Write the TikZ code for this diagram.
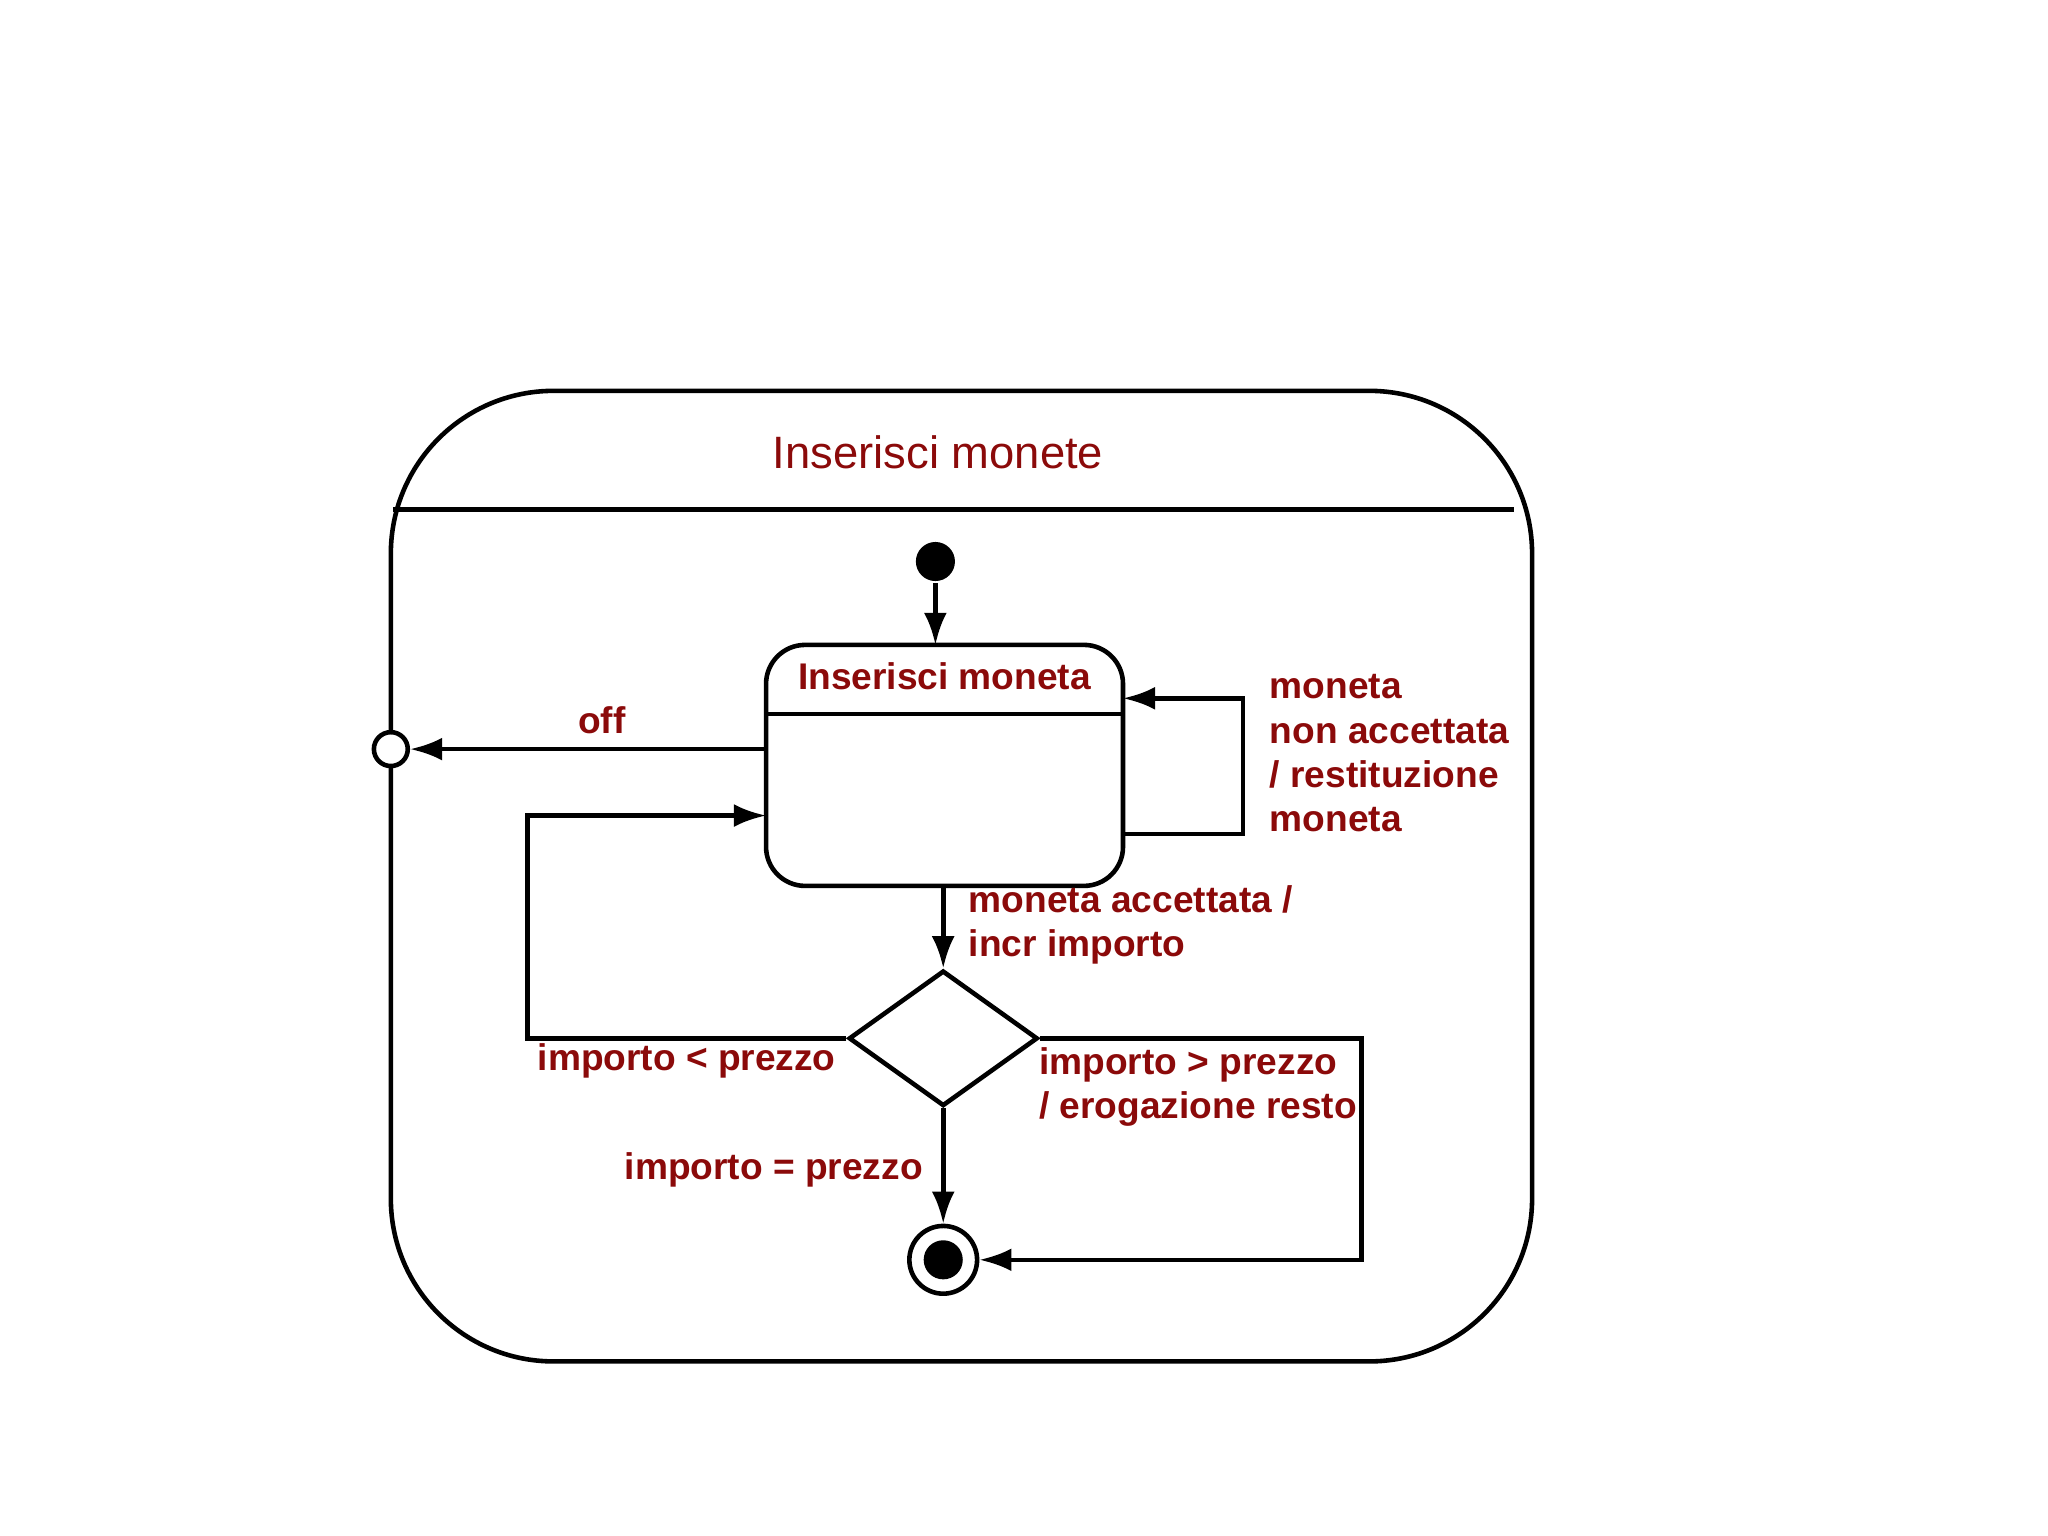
\documentclass[tikz,border=0pt]{standalone}
\usepackage{fontspec}
\setmainfont{Liberation Sans}
\usetikzlibrary{arrows.meta,shapes.geometric}
\definecolor{dred}{HTML}{8B0A0A}
\begin{document}
\begin{tikzpicture}[x=0.01cm,y=-0.01cm,
  line width=1pt,
  arr/.style={-{Latex[length=7pt,width=5pt]}},
  lbl/.style={text=dred,font=\fontsize{8.1pt}{10pt}\selectfont\bfseries,inner sep=0pt},
  lblk/.style={lbl,align=left,anchor=north west,font=\fontsize{8.1pt}{34\dimexpr0.01cm\relax}\selectfont\bfseries}]
\useasboundingbox (0,0) rectangle (1572,1179);
% outer composite state
\node[draw,rounded corners=125*0.01cm,minimum width=876*0.01cm,minimum height=745*0.01cm,inner sep=0pt] (outer) at (738,672.5) {};
\draw (302,391) -- (1162,391);
\node[text=dred,font=\fontsize{9.9pt}{12pt}\selectfont,inner sep=0pt] (title) at (720,347) {Inserisci monete};
% initial
\node[circle,fill=black,minimum size=30*0.01cm,inner sep=0pt] (init) at (718,431) {};
% state
\node[draw,rounded corners=30*0.01cm,minimum width=274*0.01cm,minimum height=185*0.01cm,inner sep=0pt] (st) at (725,587.5) {};
\draw (588,548) -- (862,548);
\node[lbl] (stl) at (725,519) {Inserisci moneta};
\coordinate (stt) at (718,495);
\draw[arr] (init) -- (stt);
% exit point
\node[circle,draw,fill=white,minimum size=26*0.01cm,inner sep=0pt] (exit) at (300,575) {};
\coordinate (offs) at (588,575);
\draw[arr] (offs) -- (exit);
\node[lbl] (offl) at (462,553) {off};
% self loop
\coordinate (sl1) at (862,640);\coordinate (sl2) at (954,640);\coordinate (sl3) at (954,536);\coordinate (sl4) at (862,536);
\draw[arr] (sl1) -- (sl2) -- (sl3) -- (sl4);
\node[lblk] (sll) at (973,516) {moneta\\non accettata\\/ restituzione\\moneta};
% diamond
\node[diamond,draw,minimum width=145*0.01cm,minimum height=104*0.01cm,inner sep=0pt,aspect=1.4] (d) at (724,797) {};
\coordinate (sb) at (724,680);
\draw[arr] (sb) -- (d.north);
\node[lblk] (acc) at (742,678) {moneta accettata /\\incr importo};
% left loop
\coordinate (l1) at (405,797);\coordinate (l2) at (405,626);\coordinate (l3) at (588,626);
\draw[arr] (d.west) -- (l1) -- (l2) -- (l3);
\node[lbl,anchor=west] (ltl) at (411,814) {importo < prezzo};
% final
\node[circle,draw,fill=white,minimum size=52*0.01cm,inner sep=0pt] (fin) at (724,967) {};
\node[circle,fill=black,minimum size=30*0.01cm,inner sep=0pt] (fini) at (724,967) {};
\draw[arr] (d.south) -- (fin.north);
\node[lbl,anchor=east] (eql) at (710,898) {importo = prezzo};
% right
\coordinate (r1) at (1045,797);\coordinate (r2) at (1045,967);
\draw[arr] (d.east) -- (r1) -- (r2) -- (fin.east);
\node[lblk] (gtl) at (796,802) {importo > prezzo\\/ erogazione resto};
\end{tikzpicture}
\end{document}
